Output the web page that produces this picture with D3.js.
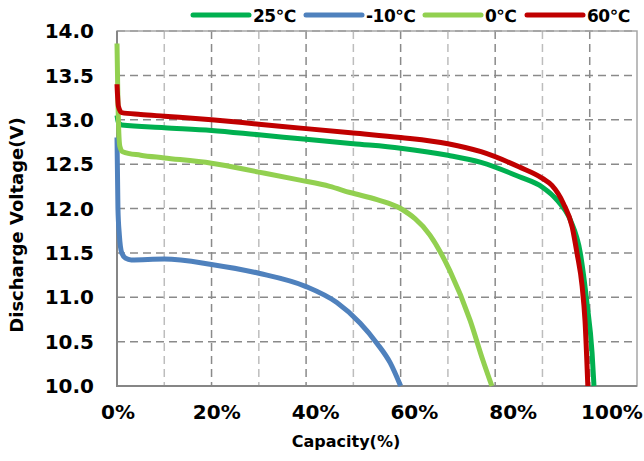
<!DOCTYPE html>
<html>
<head>
<meta charset="utf-8">
<script src="https://cdn.jsdelivr.net/npm/d3@7"></script>
<style>
  body { margin: 0; background: #fff; }
  svg text { font-family: "DejaVu Sans", Verdana, sans-serif; font-weight: bold; fill: #000; }
</style>
</head>
<body>
<svg id="chart" width="644" height="461"></svg>
<script>
// series data: capacity (fraction) vs discharge voltage (V)
const seriesNames = ["25℃", "-10℃", "0℃", "60℃"];
const seriesColors = ["#00b050", "#4f81bd", "#92d050", "#c00000"];

const cap25 = [0, 0.003, 0.01, 0.1, 0.2, 0.3, 0.4, 0.5, 0.6, 0.7, 0.77, 0.85, 0.9, 0.93, 0.959, 0.98, 0.994, 1.005, 1.009];
const volt25 = [13.05, 12.97, 12.94, 12.91, 12.88, 12.83, 12.78, 12.73, 12.68, 12.6, 12.52, 12.36, 12.24, 12.1, 11.87, 11.5, 10.94, 10.37, 10.0];

const capM10 = [0, 0.002, 0.005, 0.01, 0.018, 0.03, 0.1, 0.2, 0.3, 0.4, 0.465, 0.514, 0.55, 0.578, 0.6];
const voltM10 = [12.8, 12.0, 11.7, 11.5, 11.44, 11.42, 11.43, 11.37, 11.27, 11.12, 10.94, 10.71, 10.48, 10.26, 10.0];

const cap0 = [0, 0.002, 0.006, 0.012, 0.05, 0.1, 0.2, 0.3, 0.387, 0.45, 0.493, 0.55, 0.6, 0.662, 0.704, 0.747, 0.774, 0.793];
const volt0 = [13.86, 13.2, 12.7, 12.64, 12.6, 12.57, 12.51, 12.41, 12.32, 12.25, 12.18, 12.1, 12.0, 11.7, 11.3, 10.74, 10.29, 10.0];

const cap60 = [0, 0.003, 0.01, 0.05, 0.1, 0.2, 0.3, 0.4, 0.5, 0.6, 0.7, 0.77, 0.85, 0.9, 0.92, 0.944, 0.963, 0.973, 0.984, 0.99, 0.996];
const volt60 = [13.4, 13.15, 13.08, 13.06, 13.04, 13.0, 12.95, 12.9, 12.85, 12.8, 12.73, 12.64, 12.47, 12.34, 12.26, 12.06, 11.79, 11.5, 11.12, 10.74, 10.0];

const yTicks = [10.0, 10.5, 11.0, 11.5, 12.0, 12.5, 13.0, 13.5, 14.0];
const xMajor = [0, 0.2, 0.4, 0.6, 0.8, 1.0];
const xMinor = [0.1, 0.3, 0.5, 0.7, 0.9];
const xTickLabels = ["0%", "20%", "40%", "60%", "80%", "100%"];

const svg = d3.select("#chart");
const margin = {top: 31, right: 7, bottom: 75, left: 117};
const width = 644 - margin.left - margin.right;
const height = 461 - margin.top - margin.bottom;

const x = d3.scaleLinear().domain([0, 1.1]).range([0, width]);
const y = d3.scaleLinear().domain([10, 14]).range([height, 0]);
// tick labels in the picture sit on a slightly wider spacing than the grid
const xLabel = d3.scaleLinear().domain([0, 1]).range([1, 495]);

const g = svg.append("g").attr("transform", `translate(${margin.left},${margin.top})`);

// grid
g.selectAll(".hgrid").data(yTicks.slice(1)).join("line")
  .attr("x1", 0).attr("x2", width)
  .attr("y1", d => y(d)).attr("y2", d => y(d))
  .attr("stroke", "#8a8a8a").attr("stroke-width", 1.5).attr("stroke-dasharray", "8,5");
g.selectAll(".vminor").data(xMinor).join("line")
  .attr("x1", d => x(d)).attr("x2", d => x(d))
  .attr("y1", 0).attr("y2", height)
  .attr("stroke", "#bdbdbd").attr("stroke-width", 1.5).attr("stroke-dasharray", "8,5");
g.selectAll(".vmajor").data(xMajor.slice(1)).join("line")
  .attr("x1", d => x(d)).attr("x2", d => x(d))
  .attr("y1", 0).attr("y2", height)
  .attr("stroke", "#8a8a8a").attr("stroke-width", 1.5).attr("stroke-dasharray", "8,5");

// border
g.append("rect").attr("x", 0).attr("y", 0).attr("width", width).attr("height", height)
  .attr("fill", "none").attr("stroke", "#a6a6a6").attr("stroke-width", 1.5);
g.append("path").attr("d", `M0,0V${height}H${width}`)
  .attr("fill", "none").attr("stroke", "#868686").attr("stroke-width", 2);

// lines
const line = d3.line().x(d => x(d[0])).y(d => y(d[1])).curve(d3.curveMonotoneX);
const series = [
  d3.zip(cap25, volt25),
  d3.zip(capM10, voltM10),
  d3.zip(cap0, volt0),
  d3.zip(cap60, volt60)
];
g.selectAll(".series").data(series).join("path")
  .attr("d", line)
  .attr("fill", "none")
  .attr("stroke", (d, i) => seriesColors[i])
  .attr("stroke-width", 5)
  .attr("stroke-linejoin", "round");

// y tick labels
g.selectAll(".ylab").data(yTicks).join("text")
  .attr("x", -23).attr("y", d => y(d)).attr("dy", "0.36em")
  .attr("text-anchor", "end").attr("font-size", 20)
  .text(d => d.toFixed(1));

// x tick labels
g.selectAll(".xlab").data(xMajor).join("text")
  .attr("x", d => xLabel(d)).attr("y", height + 33)
  .attr("text-anchor", "middle").attr("font-size", 20)
  .text((d, i) => xTickLabels[i]);

// axis titles
svg.append("text").attr("x", 346).attr("y", 447)
  .attr("text-anchor", "middle").attr("font-size", 16).text("Capacity(%)");
svg.append("text").attr("transform", "translate(23,225) rotate(-90)")
  .attr("text-anchor", "middle").attr("font-size", 18).text("Discharge Voltage(V)");

// legend
const legendX = [193, 306, 425, 527];
const lg = svg.selectAll(".legend").data(seriesNames).join("g")
  .attr("transform", (d, i) => `translate(${legendX[i]},15)`);
lg.append("line").attr("x1", 0).attr("x2", 56).attr("y1", 0).attr("y2", 0)
  .attr("stroke", (d, i) => seriesColors[i]).attr("stroke-width", 5).attr("stroke-linecap", "round");
lg.append("text").attr("x", 60).attr("y", 7).attr("font-size", 17)
  .attr("letter-spacing", -0.5).text(d => d);
</script>
</body>
</html>
